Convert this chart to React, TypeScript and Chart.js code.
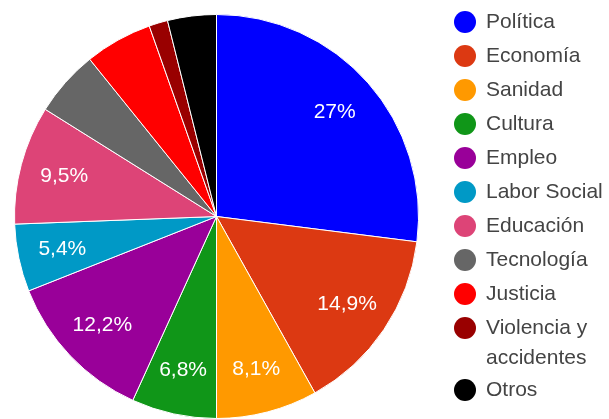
import React, { useEffect, useRef } from "react";
import { Chart, registerables } from "chart.js";

Chart.register(...registerables);

const categories = [
  "Política",
  "Economía",
  "Sanidad",
  "Cultura",
  "Empleo",
  "Labor Social",
  "Educación",
  "Tecnología",
  "Justicia",
  "Violencia y accidentes",
  "Otros",
];
const values = [27, 14.9, 8.1, 6.8, 12.2, 5.4, 9.5, 5.3, 5.4, 1.5, 3.9];
const colors = [
  "#0000ff",
  "#dc3912",
  "#ff9900",
  "#109618",
  "#990099",
  "#0099c6",
  "#dd4477",
  "#666666",
  "#ff0000",
  "#990000",
  "#000000",
];
const hiddenSliceLabels = ["Tecnología", "Justicia", "Violencia y accidentes", "Otros"];

const FONT = 'Arial, "Liberation Sans", sans-serif';

function fmtPct(v: number, total: number): string {
  const p = Math.round((v / total) * 1000) / 10;
  const s = Number.isInteger(p) ? String(p) : p.toFixed(1);
  return s.replace(".", ",") + "%";
}

const sliceLabelPlugin = {
  id: "sliceLabels",
  afterDatasetsDraw(chart: any) {
    const ctx = chart.ctx;
    const meta = chart.getDatasetMeta(0);
    const data = chart.data.datasets[0].data as number[];
    const total = data.reduce((a, b) => a + b, 0);
    ctx.save();
    ctx.font = `21px ${FONT}`;
    ctx.fillStyle = "#ffffff";
    ctx.textAlign = "center";
    ctx.textBaseline = "middle";
    meta.data.forEach((arc: any, i: number) => {
      const label = chart.data.labels[i];
      if (hiddenSliceLabels.includes(label)) return;
      const { x, y, startAngle, endAngle, outerRadius } = arc.getProps(
        ["x", "y", "startAngle", "endAngle", "outerRadius"],
        true
      );
      const mid = (startAngle + endAngle) / 2;
      const r = outerRadius * 0.78;
      ctx.fillText(fmtPct(data[i], total), x + Math.cos(mid) * r, y + Math.sin(mid) * r);
    });
    ctx.restore();
  },
};

const legendPlugin = {
  id: "customLegend",
  afterDraw(chart: any) {
    const ctx = chart.ctx;
    const labels = chart.data.labels as string[];
    const bg = chart.data.datasets[0].backgroundColor as string[];
    const circleX = 465;
    const textX = 486;
    const maxW = 609 - textX - 1;
    let y = 22;
    ctx.save();
    ctx.font = `21px ${FONT}`;
    ctx.textBaseline = "middle";
    ctx.textAlign = "left";
    labels.forEach((label, i) => {
      // wrap text
      const words = label.split(" ");
      const lines: string[] = [];
      let cur = "";
      words.forEach((w) => {
        const test = cur ? cur + " " + w : w;
        if (ctx.measureText(test).width > maxW && cur) {
          lines.push(cur);
          cur = w;
        } else {
          cur = test;
        }
      });
      if (cur) lines.push(cur);
      ctx.fillStyle = bg[i];
      ctx.beginPath();
      ctx.arc(circleX, y, 11, 0, Math.PI * 2);
      ctx.fill();
      ctx.fillStyle = "#444444";
      lines.forEach((ln, j) => {
        ctx.fillText(ln, textX, y + j * 30);
      });
      y += 34 + (lines.length - 1) * 28;
    });
    ctx.restore();
  },
};

export default function App() {
  const canvasRef = useRef<HTMLCanvasElement | null>(null);

  useEffect(() => {
    if (!canvasRef.current) return;
    const chart = new Chart(canvasRef.current, {
      type: "pie",
      data: {
        labels: categories,
        datasets: [
          {
            data: values,
            backgroundColor: colors,
            borderColor: "#ffffff",
            borderWidth: 1,
            hoverOffset: 0,
            offset: 0,
          },
        ],
      },
      options: {
        responsive: false,
        animation: false,
        layout: { padding: { left: 14, top: 14, right: 190, bottom: 21 } },
        plugins: {
          legend: { display: false },
          tooltip: { enabled: false },
        },
      },
      plugins: [sliceLabelPlugin, legendPlugin],
    });
    return () => chart.destroy();
  }, []);

  return (
    <div
      style={{
        position: "absolute",
        left: 0,
        top: 0,
        width: 609,
        height: 419,
        overflow: "hidden",
        background: "#ffffff",
      }}
    >
      <canvas ref={canvasRef} width={609} height={440} style={{ display: "block" }} />
    </div>
  );
}
